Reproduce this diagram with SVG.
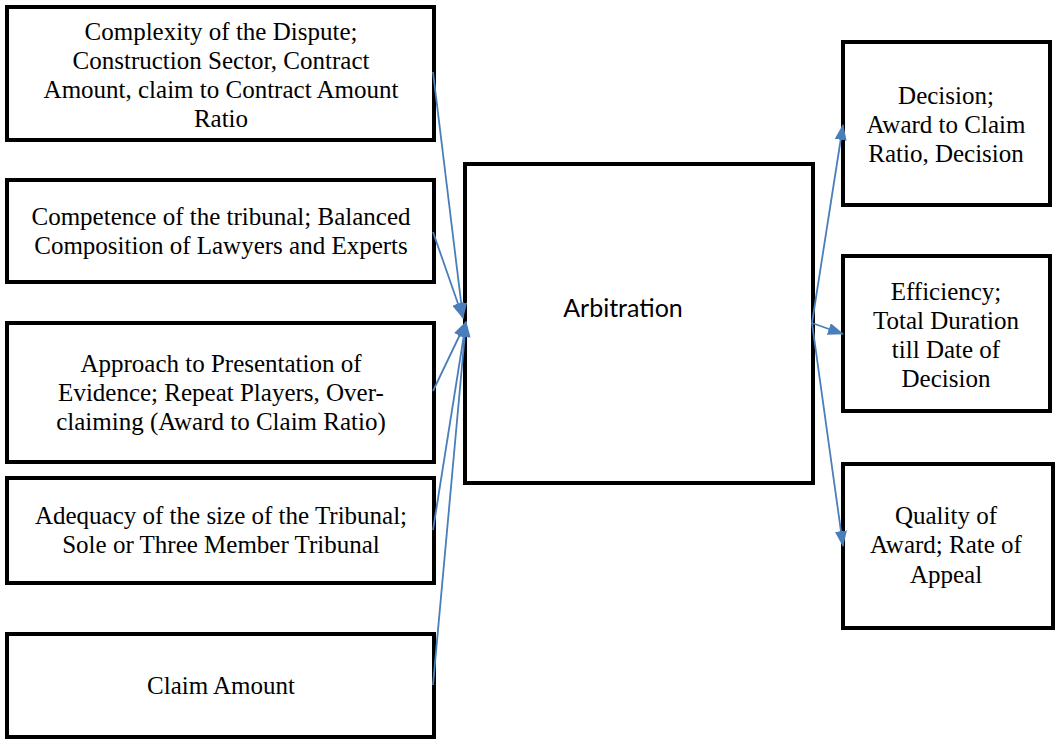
<svg xmlns="http://www.w3.org/2000/svg" width="1056" height="741" viewBox="0 0 1056 741">
<style>
.box{fill:#fff;stroke:#000;stroke-width:4}
.c{fill:none;stroke:#4a7ebb;stroke-width:1.8}
</style>
<defs>
<marker id="ah" viewBox="0 0 16 12" refX="15" refY="6" markerWidth="16" markerHeight="12" markerUnits="userSpaceOnUse" orient="auto">
<path d="M0,0 L16,6 L0,12 z" fill="#4a7ebb"/>
</marker>
</defs>
<g font-family="'Liberation Serif', 'Times New Roman', serif" font-size="25" text-anchor="middle" fill="#000">
<g id="n1"><rect class="box" x="7" y="7" width="427" height="133"/>
<text x="221" y="40">Complexity of the Dispute;</text>
<text x="221" y="69">Construction Sector, Contract</text>
<text x="221" y="98">Amount, claim to Contract Amount</text>
<text x="221" y="127">Ratio</text></g>
<g id="n2"><rect class="box" x="7" y="180" width="427" height="102"/>
<text x="221" y="225">Competence of the tribunal; Balanced</text>
<text x="221" y="254">Composition of Lawyers and Experts</text></g>
<g id="n3"><rect class="box" x="7" y="323" width="427" height="139"/>
<text x="221" y="372">Approach to Presentation of</text>
<text x="221" y="401">Evidence; Repeat Players, Over-</text>
<text x="221" y="430">claiming (Award to Claim Ratio)</text></g>
<g id="n4"><rect class="box" x="7" y="478" width="427" height="105"/>
<text x="221" y="524">Adequacy of the size of the Tribunal;</text>
<text x="221" y="553">Sole or Three Member Tribunal</text></g>
<g id="n5"><rect class="box" x="7" y="634" width="427" height="103"/>
<text x="221" y="694">Claim Amount</text></g>
<g id="center"><rect class="box" x="465" y="164" width="348" height="319"/>
<text x="623" y="317" font-family="Lato, 'Open Sans', sans-serif">Arbitration</text></g>
<g id="r1"><rect class="box" x="843" y="42" width="207" height="163"/>
<text x="946" y="104">Decision;</text>
<text x="946" y="133">Award to Claim</text>
<text x="946" y="162">Ratio, Decision</text></g>
<g id="r2"><rect class="box" x="843" y="256" width="207" height="155"/>
<text x="946" y="300">Efficiency;</text>
<text x="946" y="329">Total Duration</text>
<text x="946" y="358">till Date of</text>
<text x="946" y="387">Decision</text></g>
<g id="r3"><rect class="box" x="843" y="464" width="210" height="164"/>
<text x="946" y="524">Quality of</text>
<text x="946" y="553">Award; Rate of</text>
<text x="946" y="583">Appeal</text></g>
</g>
<g id="connectors">
<path class="c" d="M433,72 L463,318" marker-end="url(#ah)"/>
<path class="c" d="M433,232 L463,318" marker-end="url(#ah)"/>
<path class="c" d="M433,391 L466,322" marker-end="url(#ah)"/>
<path class="c" d="M433,530 L466,322" marker-end="url(#ah)"/>
<path class="c" d="M433,685 L466,322" marker-end="url(#ah)"/>
<path class="c" d="M812,323 L843,125" marker-end="url(#ah)"/>
<path class="c" d="M812,323 L843,334" marker-end="url(#ah)"/>
<path class="c" d="M812,323 L843,546" marker-end="url(#ah)"/>
</g>
</svg>
